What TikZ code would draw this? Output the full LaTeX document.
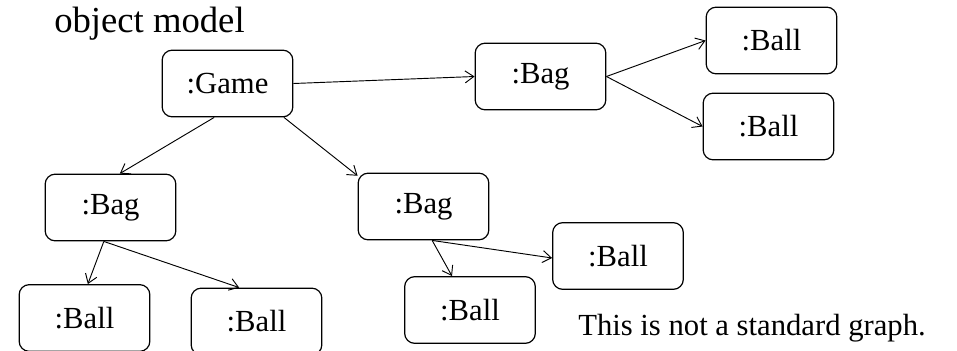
\documentclass[tikz,border=0pt]{standalone}
\usepackage{fontspec}
\setmainfont{Liberation Serif}
\usetikzlibrary{arrows.meta}

\tikzset{
  obj/.style={draw, rounded corners=7.5pt, line width=0.9pt, minimum width=98pt, minimum height=50pt, inner sep=0pt, font=\fontsize{23}{28}\selectfont},
  link/.style={line width=0.7pt, -{Straight Barb[length=6.5pt,width=9pt]}}
}

\begin{document}
\begin{tikzpicture}[x=0.75pt,y=0.75pt,yscale=-1,xscale=1]
\useasboundingbox (0,0) rectangle (957,350); %set diagram to 957 x 350

% Text Node
\node [anchor=base west, inner sep=0pt, font=\fontsize{27.5}{33}\selectfont] (title) at (54,32) {object model};

%Shape: Objects
\node [obj] (game) at (227.5,83.5) {:Game};
\node [obj] (bagT) at (540.5,76.5) {:Bag};
\node [obj] (ballTa) at (771.5,40.5) {:Ball};
\node [obj] (ballTb) at (768.5,126.5) {:Ball};
\node [obj] (bagL) at (110.5,207.5) {:Bag};
\node [obj] (ballLa) at (84.5,318) {:Ball};
\node [obj] (ballLb) at (256.5,321.5) {:Ball};
\node [obj] (bagM) at (423.5,206.5) {:Bag};
\node [obj] (ballMr) at (618,256) {:Ball};
\node [obj] (ballMb) at (470,310) {:Ball};

%Straight Lines: links
\draw [link] (game.east) -- (bagT.west);
\draw [link] (bagT.east) -- (ballTa.west);
\draw [link] (bagT.east) -- (ballTb.west);
\draw [link] ([xshift=-10pt]game.south) -- ([xshift=7pt]bagL.north);
\draw [link] (game.-31) -- (bagM.155);
\draw [link] ([xshift=-5pt]bagL.south) -- ([xshift=2.5pt]ballLa.north);
\draw [link] ([xshift=-5pt]bagL.south) -- ([xshift=-13pt]ballLb.north);
\draw [link] ([xshift=6.5pt]bagM.south) -- ([xshift=-13.5pt]ballMb.north);
\draw [link] ([xshift=6.5pt]bagM.south) -- ([yshift=1.5pt]ballMr.west);

% Text Node
\node [anchor=base west, inner sep=0pt, font=\fontsize{23}{28}\selectfont] (note) at (578,335) {This is not a standard graph.};

\end{tikzpicture}
\end{document}
